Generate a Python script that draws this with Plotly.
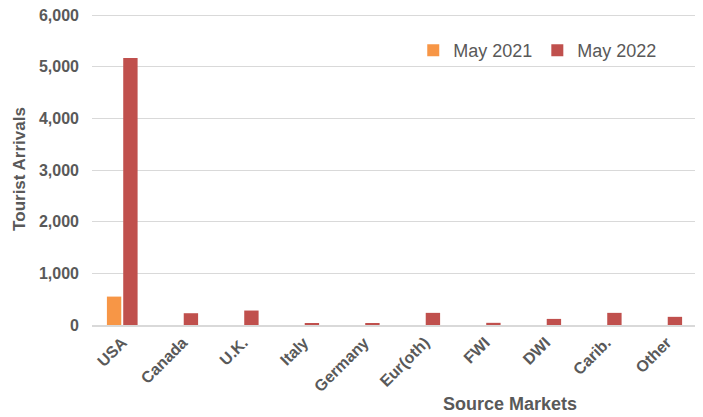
import plotly.graph_objects as go

categories = ["USA", "Canada", "U.K.", "Italy", "Germany", "Eur(oth)", "FWI", "DWI", "Carib.", "Other"]
may_2021 = [550, 0, 0, 0, 0, 0, 0, 0, 0, 0]
may_2022 = [5170, 228, 280, 30, 28, 235, 42, 118, 235, 158]
y_ticks = [0, 1000, 2000, 3000, 4000, 5000, 6000]

FONT = "Liberation Sans, Arial, sans-serif"
GREY = "#595959"

fig = go.Figure()
fig.add_trace(go.Bar(name="May 2021", x=categories, y=may_2021, marker_color="#F79646", marker_line_width=0))
fig.add_trace(go.Bar(name="May 2022", x=categories, y=may_2022, marker_color="#C0504D", marker_line_width=0))

fig.update_layout(
    width=703, height=417,
    margin=dict(l=84, r=14, t=5, b=100, autoexpand=False),
    paper_bgcolor="white", plot_bgcolor="white",
    barmode="group", bargap=0.46, bargroupgap=0.12,
    font=dict(family=FONT, color=GREY),
    legend=dict(orientation="h", x=0.531, y=0.88, xanchor="left", yanchor="middle",
                font=dict(size=18, color=GREY), bgcolor="rgba(0,0,0,0)",
                itemwidth=30, tracegroupgap=0),
    showlegend=True,
    annotations=[dict(text="<b>Source Markets</b>", xref="paper", yref="paper", x=0.691, y=-0.253,
                      xanchor="center", yanchor="middle", showarrow=False,
                      font=dict(size=18, color=GREY, family=FONT))],
)
fig.update_yaxes(range=[0, 6040], showgrid=True, gridcolor="#d9d9d9",
                 gridwidth=1, zeroline=False, ticks="", ticklen=0, automargin=False,
                 ticklabelstandoff=12, ticklabeloverflow="allow",
                 tickfont=dict(size=16, color=GREY, family=FONT),
                 tickvals=y_ticks,
                 ticktext=["<b>%s</b>" % f"{v:,}" for v in y_ticks],
                 title=dict(text="<b>Tourist Arrivals</b>", font=dict(size=17, color=GREY), standoff=9))
fig.update_xaxes(showline=True, linecolor="#d9d9d9", linewidth=2, tickangle=-45, automargin=False,
                 tickfont=dict(size=16, color=GREY, family=FONT),
                 tickvals=categories, ticktext=["<b>%s</b>" % c for c in categories])

fig.write_html("out.html")
